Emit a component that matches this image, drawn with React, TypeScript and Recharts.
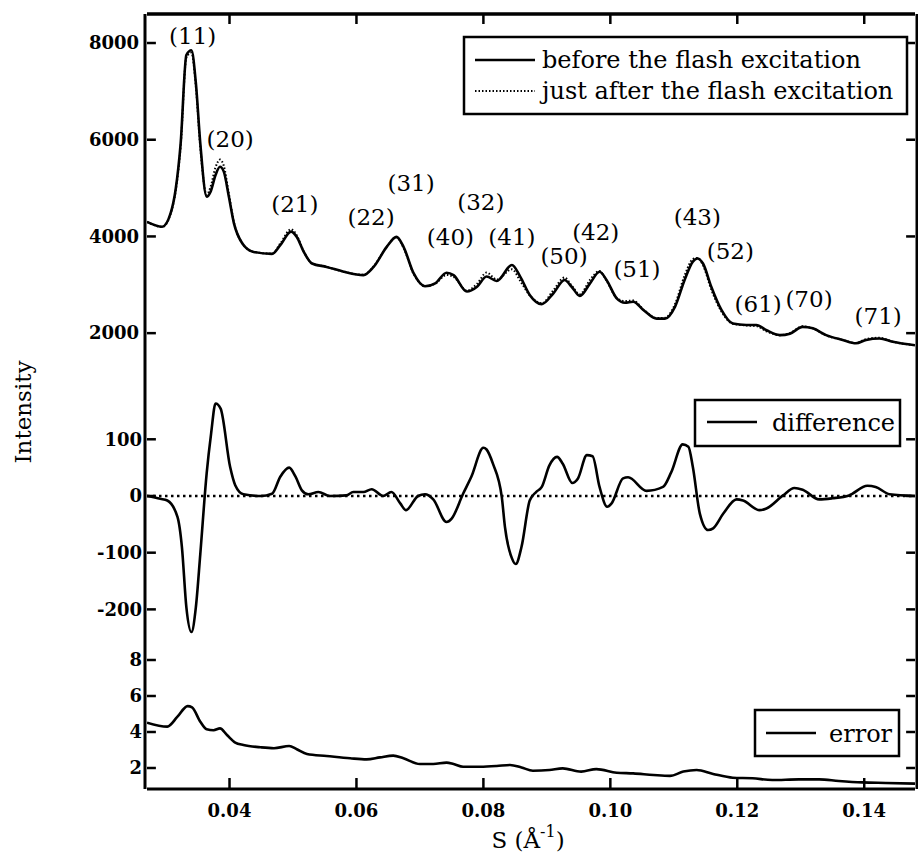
import React from 'react';
import { LineChart, Line, XAxis, YAxis, ReferenceLine, ReferenceDot } from 'recharts';

// scattering vector S (1/Å), shared x range of all three panels
const sDomain: [number, number] = [0.027, 0.148];
const sTicks = [0.04, 0.06, 0.08, 0.1, 0.12, 0.14];

// top panel: intensity before / just after the flash
const topS = [
  0.027, 0.0294, 0.0307, 0.0315, 0.0323, 0.0332, 0.034, 0.0347, 0.0354, 0.0364,
  0.037, 0.0378, 0.0385, 0.0391, 0.0399, 0.0407, 0.042, 0.0438, 0.0467, 0.048,
  0.0497, 0.0506, 0.0517, 0.053, 0.0553, 0.058, 0.0611, 0.0627, 0.0648, 0.0663,
  0.0674, 0.069, 0.0708, 0.0724, 0.0742, 0.0753, 0.0774, 0.079, 0.0805, 0.0821,
  0.0845, 0.0858, 0.0873, 0.0892, 0.091, 0.0928, 0.0939, 0.0952, 0.0968, 0.0983,
  0.0994, 0.101, 0.1023, 0.1036, 0.1052, 0.1073, 0.1086, 0.1102, 0.1117, 0.113,
  0.1137, 0.1146, 0.1159, 0.1175, 0.1193, 0.1214, 0.123, 0.1246, 0.1267, 0.1283,
  0.1303, 0.1319, 0.134, 0.1366, 0.1387, 0.1403, 0.1424, 0.1445, 0.148,
];
const beforeI = [
  4300, 4200, 4470, 4960, 5920, 7750, 7850, 7170, 5920, 4820,
  4920, 5270, 5440, 5340, 4820, 4270, 3860, 3680, 3640, 3820,
  4100, 3990, 3680, 3440, 3370, 3270, 3200, 3370, 3790, 3990,
  3790, 3240, 2970, 3030, 3250, 3200, 2860, 2960, 3170, 3080,
  3410, 3170, 2790, 2600, 2820, 3100, 2960, 2770, 3030, 3270,
  3100, 2720, 2630, 2650, 2480, 2300, 2300, 2550, 3100, 3480,
  3545, 3440, 2960, 2480, 2200, 2170, 2170, 2060, 1960, 1990,
  2130, 2100, 1960, 1860, 1790, 1860, 1890, 1820, 1750,
];
const afterI = [
  4300, 4195, 4460, 4930, 5860, 7700, 7800, 7100, 5840, 4860,
  5020, 5430, 5590, 5460, 4880, 4290, 3863, 3680, 3644, 3854,
  4148, 4020, 3688, 3444, 3371, 3271, 3207, 3378, 3793, 3985,
  3770, 3230, 2973, 3022, 3204, 3162, 2880, 3020, 3252, 3110,
  3320, 3080, 2782, 2616, 2882, 3150, 2985, 2805, 3102, 3286,
  3081, 2730, 2663, 2675, 2490, 2312, 2316, 2605, 3191, 3531,
  3555, 3405, 2902, 2450, 2194, 2160, 2146, 2038, 1957, 2002,
  2141, 2098, 1954, 1860, 1795, 1878, 1904, 1823, 1750,
];

// reflection indices and where their labels sit (S, intensity)
const peakNames = ['(11)', '(20)', '(21)', '(22)', '(31)', '(32)', '(40)', '(41)', '(50)', '(42)', '(51)', '(43)', '(52)', '(61)', '(70)', '(71)'];
const peakS = [0.0342, 0.0401, 0.0503, 0.0623, 0.0686, 0.0796, 0.0748, 0.0845, 0.0927, 0.0977, 0.1042, 0.1137, 0.1189, 0.1233, 0.1313, 0.1422];
const peakI = [8145, 6014, 4669, 4400, 5103, 4710, 3986, 3986, 3593, 4090, 3324, 4400, 3697, 2600, 2703, 2352];

// middle panel: difference
const diffS = [
  0.027, 0.0291, 0.0302, 0.0318, 0.0325, 0.0332, 0.034, 0.0347, 0.0354, 0.0364,
  0.0371, 0.0378, 0.0386, 0.0401, 0.0409, 0.0422, 0.0449, 0.0467, 0.048, 0.0494,
  0.0504, 0.0514, 0.0524, 0.054, 0.0558, 0.0584, 0.0595, 0.0611, 0.0624, 0.0642,
  0.0655, 0.0669, 0.0678, 0.0697, 0.0708, 0.0721, 0.0742, 0.075, 0.0768, 0.0781,
  0.08, 0.0805, 0.0815, 0.0829, 0.0834, 0.0845, 0.0851, 0.086, 0.0873, 0.0883,
  0.0892, 0.0904, 0.0916, 0.0925, 0.094, 0.0949, 0.0963, 0.0972, 0.0983, 0.0995,
  0.1002, 0.102, 0.1028, 0.1057, 0.1083, 0.1096, 0.1114, 0.1123, 0.113, 0.1141,
  0.1154, 0.1162, 0.1178, 0.1199, 0.1209, 0.1235, 0.1246, 0.1272, 0.129, 0.1303,
  0.1329, 0.135, 0.1376, 0.1405, 0.1418, 0.144, 0.148,
];
const diffI = [
  0, -5, -8, -37, -90, -196, -240, -196, -102, 40,
  110, 163, 154, 51, 19, 3, 0, 4, 34, 50,
  34, 10, 3, 7, 0, 1, 7, 7, 12, 0,
  7, -13, -25, 0, 3, -6, -46, -40, 4, 34,
  85, 82, 57, -2, -55, -110, -120, -90, -8, 7,
  16, 54, 69, 57, 23, 31, 72, 70, 16, -19,
  -13, 31, 33, 9, 16, 42, 91, 87, 51, -31,
  -60, -57, -31, -6, -8, -25, -22, 1, 14, 11,
  -6, -4, 1, 18, 16, 3, 0,
];

// bottom panel: error
const errS = [
  0.027, 0.0302, 0.0318, 0.0334, 0.0341, 0.0354, 0.0364, 0.0375, 0.0385, 0.0396,
  0.0409, 0.0422, 0.0449, 0.047, 0.0494, 0.0506, 0.0522, 0.0553, 0.059, 0.0616,
  0.0637, 0.0658, 0.0674, 0.07, 0.0721, 0.0742, 0.0753, 0.0768, 0.0795, 0.0821,
  0.0842, 0.086, 0.0878, 0.0904, 0.0925, 0.0954, 0.0978, 0.101, 0.1036, 0.1068,
  0.1094, 0.1115, 0.1136, 0.1162, 0.1193, 0.1224, 0.1255, 0.1297, 0.1329, 0.136,
  0.1397, 0.1434, 0.148,
];
const errI = [
  4.52, 4.3, 4.85, 5.44, 5.37, 4.57, 4.15, 4.1, 4.2, 3.83,
  3.41, 3.28, 3.15, 3.1, 3.22, 3.04, 2.78, 2.67, 2.54, 2.48,
  2.59, 2.69, 2.54, 2.22, 2.22, 2.3, 2.22, 2.07, 2.07, 2.11,
  2.17, 2.03, 1.85, 1.89, 1.98, 1.8, 1.94, 1.74, 1.7, 1.61,
  1.56, 1.8, 1.89, 1.67, 1.46, 1.43, 1.33, 1.37, 1.37, 1.28,
  1.2, 1.17, 1.13,
];

const topTicks = [2000, 4000, 6000, 8000];
const diffTicks = [-200, -100, 0, 100];
const errTicks = [2, 4, 6, 8];

// each panel's y axis spans the full plot height; the domains are stretched so
// that every panel only fills its own band (top / middle / bottom)
const topDomain = [-7427, 8600];
const diffDomain = [-516.8, 850.1];
const errDomain = [0.833, 43.89];

const toPoints = (xs: number[], ys: number[]) => xs.map((s, i) => ({ s, v: ys[i] }));

const FONT = '"DejaVu Serif", serif';
const W = 918;
const H = 865;
const AXIS = { stroke: '#000', strokeWidth: 3 };

// inward tick lengths, expressed in axis units (about 9-11 px)
const yTickLen = 0.0014; // in S
const topTickLen = 207; // in intensity
const bottomTickLen = 0.61; // in error units

const LeftTick = (p: any) => (
  <text x={p.x} y={p.y} dy="0.35em" textAnchor="end" fontFamily={FONT} fontWeight="bold" fontSize={18} fill="#000">
    {p.payload.value}
  </text>
);

const BottomTick = (p: any) => (
  <text x={p.x} y={p.y + 20} textAnchor="middle" fontFamily={FONT} fontWeight="bold" fontSize={18} fill="#000">
    {p.payload.value.toFixed(2)}
  </text>
);

// three stacked y axes sit 1px apart at each side; `n` is their index from the plot
const leftAxis = (id: string, domain: number[], ticks: number[], n: number) => (
  <YAxis
    key={'l' + id}
    yAxisId={id}
    type="number"
    domain={domain}
    ticks={ticks}
    interval={0}
    allowDataOverflow
    width={1}
    axisLine={n === 0 ? AXIS : false}
    tickLine={false}
    tickSize={0}
    tickMargin={6 - n}
    tick={(p: any) => <LeftTick {...p} />}
  />
);

const rightAxis = (id: string, domain: number[], n: number) => (
  <YAxis
    key={'r' + id}
    yAxisId={'r' + id}
    orientation="right"
    type="number"
    domain={domain}
    allowDataOverflow
    width={1}
    axisLine={n === 0 ? AXIS : false}
    tickLine={false}
    tick={false}
  />
);

// inward tick marks on both sides for one panel
const yTickMarks = (id: string, ticks: number[]) =>
  ticks.flatMap((v) => [
    <ReferenceLine key={id + 'L' + v} xAxisId="b" yAxisId={id} ifOverflow="visible" stroke="#000" strokeWidth={2.5}
      segment={[{ x: sDomain[0], y: v }, { x: sDomain[0] + yTickLen, y: v }]} />,
    <ReferenceLine key={id + 'R' + v} xAxisId="b" yAxisId={id} ifOverflow="visible" stroke="#000" strokeWidth={2.5}
      segment={[{ x: sDomain[1], y: v }, { x: sDomain[1] - yTickLen, y: v }]} />,
  ]);

export default function App() {
  const before = toPoints(topS, beforeI);
  const after = toPoints(topS, afterI);
  const diff = toPoints(diffS, diffI);
  const err = toPoints(errS, errI);

  return (
    <div style={{ position: 'absolute', left: 0, top: 0, width: W, height: H, background: '#fff' }}>
      <LineChart width={W} height={H} margin={{ top: 13, right: 0, bottom: 36, left: 144 }}>
        <XAxis
          xAxisId="b"
          type="number"
          dataKey="s"
          domain={sDomain}
          ticks={sTicks}
          interval={0}
          allowDataOverflow
          height={40}
          axisLine={AXIS}
          tickLine={false}
          tickSize={0}
          tickMargin={8}
          tick={(p: any) => <BottomTick {...p} />}
        />
        <XAxis
          xAxisId="t"
          orientation="top"
          type="number"
          dataKey="s"
          domain={sDomain}
          allowDataOverflow
          height={1}
          axisLine={AXIS}
          tickLine={false}
          tick={false}
        />
        {leftAxis('top', topDomain, topTicks, 0)}
        {leftAxis('diff', diffDomain, diffTicks, 1)}
        {leftAxis('err', errDomain, errTicks, 2)}
        {rightAxis('top', topDomain, 0)}
        {rightAxis('diff', diffDomain, 1)}
        {rightAxis('err', errDomain, 2)}

        {/* top frame edge */}
        <ReferenceLine xAxisId="b" yAxisId="top" y={topDomain[1]} stroke="#000" strokeWidth={3} ifOverflow="visible" />

        {/* inward ticks of the frame */}
        {sTicks.map((s) => (
          <ReferenceLine key={'t' + s} xAxisId="b" yAxisId="top" ifOverflow="visible" stroke="#000" strokeWidth={2.5}
            segment={[{ x: s, y: topDomain[1] }, { x: s, y: topDomain[1] - topTickLen }]} />
        ))}
        {sTicks.map((s) => (
          <ReferenceLine key={'b' + s} xAxisId="b" yAxisId="err" ifOverflow="visible" stroke="#000" strokeWidth={2.5}
            segment={[{ x: s, y: errDomain[0] }, { x: s, y: errDomain[0] + bottomTickLen }]} />
        ))}
        {yTickMarks('top', topTicks)}
        {yTickMarks('diff', diffTicks)}
        {yTickMarks('err', errTicks)}

        <ReferenceLine xAxisId="b" yAxisId="diff" y={0} stroke="#000" strokeWidth={2.5} strokeDasharray="2.5 3.5" />

        <Line xAxisId="b" yAxisId="top" data={after} dataKey="v" type="monotone" stroke="#000" strokeWidth={2}
          strokeDasharray="1.5 2" dot={false} isAnimationActive={false} />
        <Line xAxisId="b" yAxisId="top" data={before} dataKey="v" type="monotone" stroke="#000" strokeWidth={2.6}
          dot={false} isAnimationActive={false} />
        <Line xAxisId="b" yAxisId="diff" data={diff} dataKey="v" type="monotone" stroke="#000" strokeWidth={2.6}
          dot={false} isAnimationActive={false} />
        <Line xAxisId="b" yAxisId="err" data={err} dataKey="v" type="monotone" stroke="#000" strokeWidth={2.6}
          dot={false} isAnimationActive={false} />

        {peakNames.map((name, i) => (
          <ReferenceDot
            key={name}
            xAxisId="b"
            yAxisId="top"
            x={peakS[i]}
            y={peakI[i]}
            r={0}
            ifOverflow="visible"
            shape={(p: any) => (
              <text x={p.cx} y={p.cy} textAnchor="middle" dominantBaseline="central" fontFamily={FONT} fontSize={23} fill="#000">
                {name}
              </text>
            )}
          />
        ))}
      </LineChart>

      {/* titles and legends */}
      <svg width={W} height={H} style={{ position: 'absolute', left: 0, top: 0, pointerEvents: 'none' }}
        fontFamily={FONT} fontSize={24} fill="#000">
        <text x={0} y={0} transform="translate(31,412) rotate(-90)" textAnchor="middle" fontSize={23}>Intensity</text>
        <text x={528} y={848} textAnchor="middle" fontSize={23}>
          S (Å<tspan dy={-11} fontSize={16}>-1</tspan><tspan dy={11}>)</tspan>
        </text>

        <rect x={464} y={37} width={443} height={77} fill="#fff" stroke="#000" strokeWidth={2.5} />
        <line x1={475} x2={535} y1={60} y2={60} stroke="#000" strokeWidth={2.6} />
        <line x1={475} x2={535} y1={91} y2={91} stroke="#000" strokeWidth={2} strokeDasharray="1.5 2" />
        <text x={542} y={68}>before the flash excitation</text>
        <text x={542} y={99}>just after the flash excitation</text>

        <rect x={695} y={400} width={205} height={46} fill="#fff" stroke="#000" strokeWidth={2.5} />
        <line x1={707} x2={757} y1={422} y2={422} stroke="#000" strokeWidth={2.6} />
        <text x={772} y={431}>difference</text>

        <rect x={755} y={710} width={144} height={46} fill="#fff" stroke="#000" strokeWidth={2.5} />
        <line x1={766} x2={816} y1={733} y2={733} stroke="#000" strokeWidth={2.6} />
        <text x={829} y={742}>error</text>
      </svg>
    </div>
  );
}
